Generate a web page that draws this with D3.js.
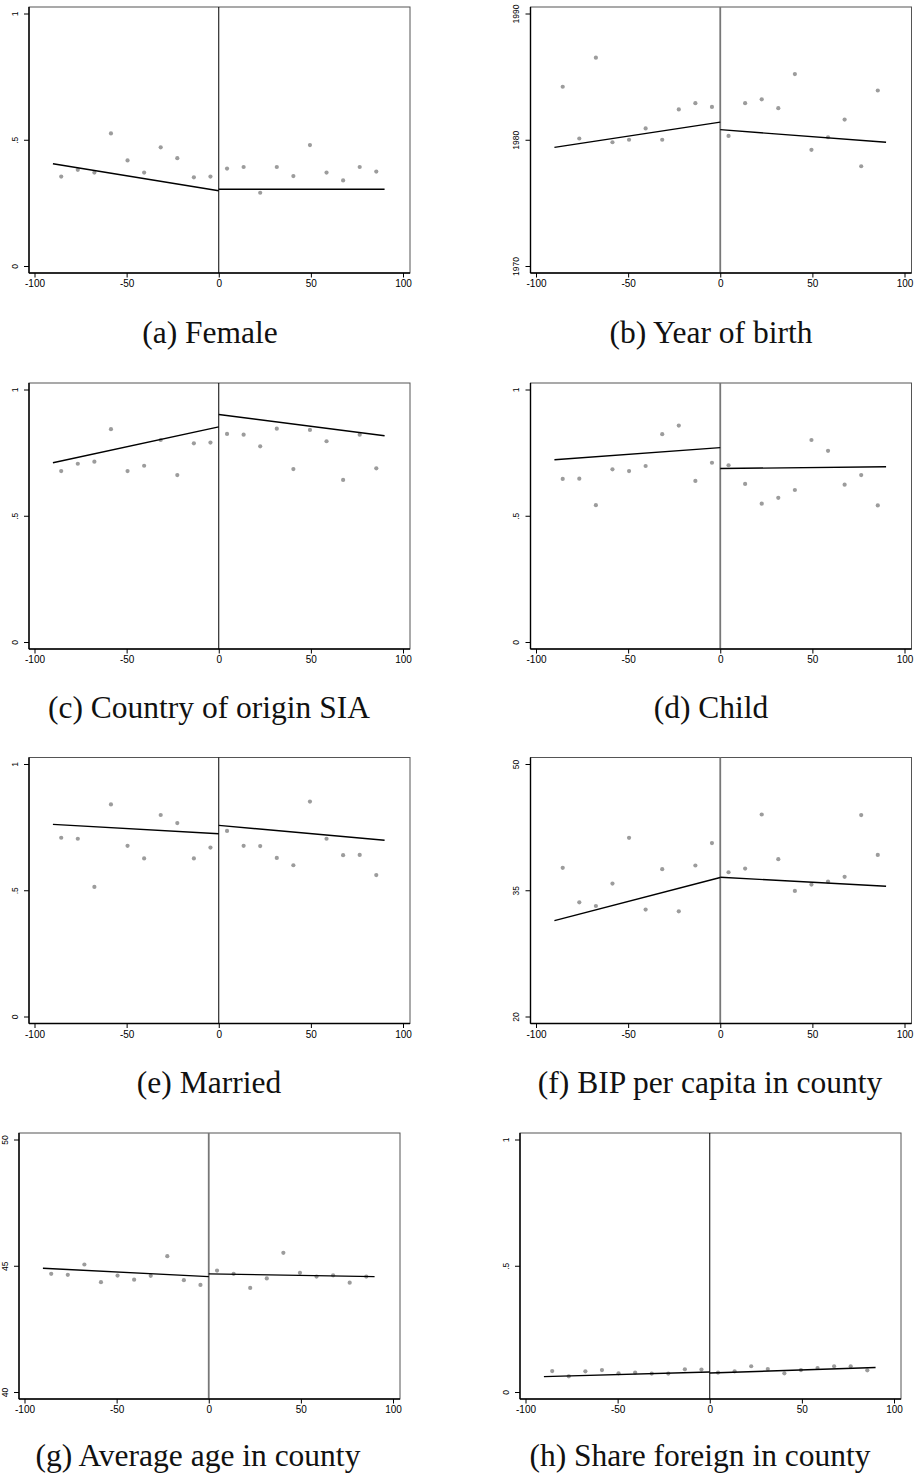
<!DOCTYPE html>
<html>
<head>
<meta charset="utf-8">
<script src="https://cdn.jsdelivr.net/npm/d3@7"></script>
<style>
  body { margin: 0; background: #fff; }
  .tick text { font-family: "Liberation Sans", Arial, sans-serif; fill: #000; }
  .caption { font-family: "Liberation Serif", "Times New Roman", serif; font-size: 31.5px; fill: #111; }
</style>
</head>
<body>
<div id="chart"></div>
<script>
// running variable bins (width 9) and the two fit segments
var binCenters = [-85.5, -76.5, -67.5, -58.5, -49.5, -40.5, -31.5, -22.5, -13.5, -4.5,
                  4.5, 13.5, 22.5, 31.5, 40.5, 49.5, 58.5, 67.5, 76.5, 85.5];
var fitXLeft = [-90, 0];
var fitXRight = [0, 90];

var xTicks = [-100, -50, 0, 50, 100];
var xLabels = ["-100", "-50", "0", "50", "100"];
var shareTicks = [0, 0.5, 1];
var shareLabels = ["0", ".5", "1"];
var birthTicks = [1970, 1980, 1990];
var bipTicks = [20, 35, 50];
var ageTicks = [40, 45, 50];

var femaleVals = [0.354, 0.381, 0.370, 0.525, 0.418, 0.370, 0.470, 0.427, 0.351, 0.354,
                  0.386, 0.392, 0.290, 0.392, 0.356, 0.479, 0.370, 0.339, 0.392, 0.374];
var femaleFitL = [0.405, 0.298];
var femaleFitR = [0.304, 0.304];

var birthVals = [1984.2, 1980.1, 1986.5, 1979.8, 1980.0, 1980.9, 1980.0, 1982.4, 1982.9, 1982.6,
                 1980.3, 1982.9, 1983.2, 1982.5, 1985.2, 1979.2, 1980.2, 1981.6, 1977.9, 1983.9];
var birthFitL = [1979.4, 1981.4];
var birthFitR = [1980.8, 1979.8];

var originVals = [0.677, 0.706, 0.714, 0.843, 0.677, 0.698, 0.800, 0.661, 0.787, 0.790,
                  0.824, 0.821, 0.775, 0.845, 0.685, 0.840, 0.795, 0.642, 0.821, 0.688];
var originFitL = [0.710, 0.852];
var originFitR = [0.901, 0.817];

var childVals = [0.646, 0.647, 0.542, 0.684, 0.677, 0.697, 0.823, 0.857, 0.638, 0.710,
                 0.700, 0.626, 0.548, 0.571, 0.602, 0.800, 0.757, 0.623, 0.661, 0.541];
var childFitL = [0.722, 0.770];
var childFitR = [0.687, 0.694];

var marriedVals = [0.708, 0.704, 0.513, 0.840, 0.676, 0.626, 0.798, 0.766, 0.626, 0.669,
                   0.735, 0.676, 0.675, 0.628, 0.599, 0.851, 0.704, 0.639, 0.640, 0.560];
var marriedFitL = [0.761, 0.724];
var marriedFitR = [0.757, 0.698];

var bipVals = [37.66, 33.57, 33.13, 35.79, 41.23, 32.70, 37.50, 32.50, 37.94, 40.60,
               37.14, 37.58, 44.00, 38.69, 34.92, 35.67, 36.03, 36.59, 43.93, 39.20];
var bipFitL = [31.39, 36.51];
var bipFitR = [36.55, 35.48];

var ageVals = [44.68, 44.64, 45.05, 44.35, 44.61, 44.45, 44.60, 45.38, 44.43, 44.24,
               44.81, 44.68, 44.12, 44.50, 45.51, 44.72, 44.57, 44.62, 44.33, 44.57];
var ageFitL = [44.90, 44.57];
var ageFitR = [44.68, 44.57];

var foreignVals = [0.083, 0.062, 0.082, 0.087, 0.074, 0.077, 0.073, 0.073, 0.090, 0.089,
                   0.077, 0.082, 0.102, 0.091, 0.074, 0.087, 0.095, 0.102, 0.102, 0.086];
var foreignFitL = [0.061, 0.079];
var foreignFitR = [0.075, 0.097];

var W = 916, H = 1477;

var svg = d3.select("#chart").append("svg")
  .attr("width", W)
  .attr("height", H);

// panel placement (frame box, caption anchor, cutoff line colour)
var panels = [
  {cap: "(a) Female", vals: femaleVals, fitL: femaleFitL, fitR: femaleFitR,
   ticks: shareTicks, labels: shareLabels, left: 29, top: 7, capX: 210, capY: 343, cut: "#000"},
  {cap: "(b) Year of birth", vals: birthVals, fitL: birthFitL, fitR: birthFitR,
   ticks: birthTicks, labels: null, left: 530.5, top: 7, capX: 711, capY: 343, cut: "#777"},
  {cap: "(c) Country of origin SIA", vals: originVals, fitL: originFitL, fitR: originFitR,
   ticks: shareTicks, labels: shareLabels, left: 29, top: 383, capX: 209, capY: 718, cut: "#000"},
  {cap: "(d) Child", vals: childVals, fitL: childFitL, fitR: childFitR,
   ticks: shareTicks, labels: shareLabels, left: 530.5, top: 383, capX: 711, capY: 718, cut: "#777"},
  {cap: "(e) Married", vals: marriedVals, fitL: marriedFitL, fitR: marriedFitR,
   ticks: shareTicks, labels: shareLabels, left: 29, top: 757.5, capX: 209, capY: 1093, cut: "#000"},
  {cap: "(f) BIP per capita in county", vals: bipVals, fitL: bipFitL, fitR: bipFitR,
   ticks: bipTicks, labels: null, left: 530.5, top: 757.5, capX: 710, capY: 1093, cut: "#777"},
  {cap: "(g) Average age in county", vals: ageVals, fitL: ageFitL, fitR: ageFitR,
   ticks: ageTicks, labels: null, left: 19, top: 1133, capX: 198, capY: 1466, cut: "#777"},
  {cap: "(h) Share foreign in county", vals: foreignVals, fitL: foreignFitL, fitR: foreignFitR,
   ticks: shareTicks, labels: shareLabels, left: 520, top: 1133, capX: 700, capY: 1466, cut: "#000"}
];

var pw = 381, ph = 266;

panels.forEach(function(p) {
  var x = d3.scaleLinear()
    .domain([-100, 100])
    .range([p.left + 5.5, p.left + pw - 7]);
  var y = d3.scaleLinear()
    .domain([p.ticks[0], p.ticks[p.ticks.length - 1]])
    .range([p.top + ph - 7, p.top + 6.5]);

  var g = svg.append("g");

  // plot region outline
  g.append("rect")
    .attr("x", p.left).attr("y", p.top)
    .attr("width", pw).attr("height", ph)
    .attr("fill", "none")
    .attr("stroke", "#555")
    .attr("stroke-width", 1);

  // cutoff line at 0
  g.append("line")
    .attr("x1", x(0)).attr("x2", x(0))
    .attr("y1", p.top).attr("y2", p.top + ph)
    .attr("stroke", p.cut)
    .attr("stroke-width", p.cut === "#000" ? 1 : 1.8);

  // binned means
  g.append("g")
    .selectAll("circle").data(p.vals).enter().append("circle")
    .attr("cx", function(d, i) { return x(binCenters[i]); })
    .attr("cy", function(d) { return y(d); })
    .attr("r", 2.1)
    .attr("fill", "#9c9c9c");

  // linear fits on each side
  var line = d3.line()
    .x(function(d) { return x(d[0]); })
    .y(function(d) { return y(d[1]); });

  [[fitXLeft, p.fitL], [fitXRight, p.fitR]].forEach(function(seg) {
    g.append("path")
      .attr("d", line(d3.zip(seg[0], seg[1])))
      .attr("fill", "none")
      .attr("stroke", "#000")
      .attr("stroke-width", 1.4);
  });

  // x axis
  var xa = g.append("g")
    .attr("transform", "translate(0," + (p.top + ph) + ")")
    .call(d3.axisBottom(x).tickValues(xTicks).tickSize(4.5).tickPadding(2.5)
      .tickFormat(function(d, i) { return xLabels[i]; }));
  xa.select(".domain").remove();
  xa.selectAll("line").attr("stroke", "#000");
  xa.selectAll("text").attr("font-size", "10px");

  // y axis, labels turned vertical as in Stata
  var ya = g.append("g")
    .attr("transform", "translate(" + p.left + ",0)")
    .call(d3.axisLeft(y).tickValues(p.ticks).tickSize(5)
      .tickFormat(function(d, i) { return p.labels ? p.labels[i] : String(d); }));
  ya.select(".domain").remove();
  ya.selectAll("line").attr("stroke", "#000");
  ya.selectAll("text")
    .attr("x", null).attr("dy", null)
    .attr("text-anchor", "middle")
    .attr("font-size", "8.5px")
    .attr("transform", "translate(-11.5,0) rotate(-90)");

  // heavier left and bottom axis lines
  g.append("line")
    .attr("x1", p.left).attr("x2", p.left)
    .attr("y1", p.top).attr("y2", p.top + ph)
    .attr("stroke", "#000").attr("stroke-width", 1.4);
  g.append("line")
    .attr("x1", p.left).attr("x2", p.left + pw)
    .attr("y1", p.top + ph).attr("y2", p.top + ph)
    .attr("stroke", "#000").attr("stroke-width", 1.4);

  svg.append("text")
    .attr("class", "caption")
    .attr("x", p.capX)
    .attr("y", p.capY)
    .attr("text-anchor", "middle")
    .text(p.cap);
});
</script>
</body>
</html>
